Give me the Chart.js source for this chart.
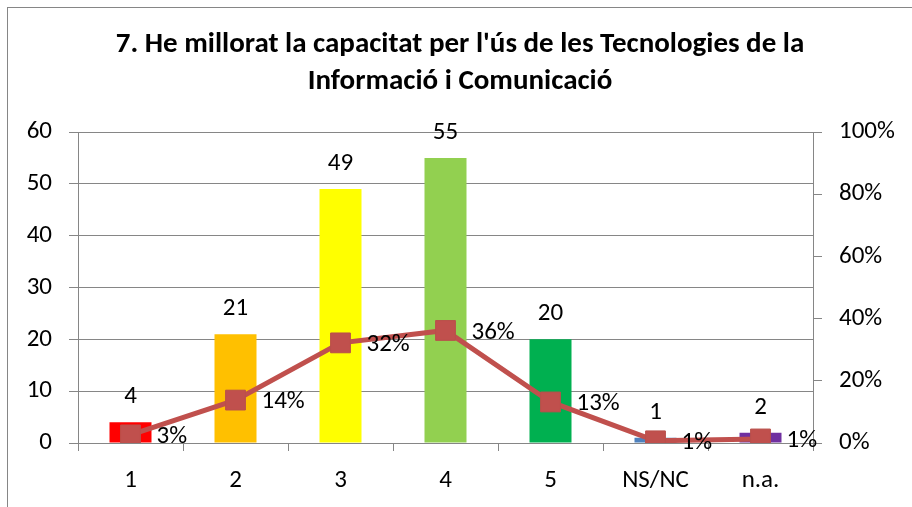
<!DOCTYPE html>
<html><head><meta charset="utf-8">
<script src="https://cdn.jsdelivr.net/npm/chart.js@4"></script>
<style>html,body{margin:0;padding:0;background:#fff}#wrap{width:912px;height:507px;position:relative}</style>
</head><body><div id="wrap"><canvas id="c" width="912" height="507"></canvas></div>
<script>
const categories = ['1','2','3','4','5','NS/NC','n.a.'];
const counts = [4,21,49,55,20,1,2];
const percents = [2.6,13.8,32.2,36.2,13.2,0.7,1.3];
const percentLabels = ['3%','14%','32%','36%','13%','1%','1%'];
const barColors = ['#FF0000','#FFC000','#FFFF00','#92D050','#00B050','#4F81BD','#7030A0'];
const titleLines = ["7. He millorat la capacitat per l'ús de les Tecnologies de la","Informació i Comunicació"];
const FONT = "Carlito, Lato, 'Open Sans', sans-serif";
const GRID = '#868686';
const FS = 25;

const labelPlugin = {
  id:'labels',
  beforeDraw(chart){
    const ctx=chart.ctx; ctx.save();
    ctx.strokeStyle=GRID; ctx.lineWidth=1;
    ctx.strokeRect(7.5,7.5,940,540);
    ctx.restore();
  },
  afterDatasetsDraw(chart){
    const ctx=chart.ctx; ctx.save();
    ctx.font=FS+'px '+FONT; ctx.fillStyle='#000';
    const bm=chart.getDatasetMeta(0);
    ctx.textAlign='center'; ctx.textBaseline='alphabetic';
    bm.data.forEach((b,i)=>{ ctx.fillText(String(counts[i]), b.x, b.y-19); });
    const lm=chart.getDatasetMeta(1);
    ctx.textAlign='left'; ctx.textBaseline='middle';
    lm.data.forEach((p,i)=>{ ctx.fillText(percentLabels[i], p.x+26, p.y+2); });
    ctx.restore();
  }
};

new Chart(document.getElementById('c'),{
  data:{labels:categories,datasets:[
    {type:'bar',data:counts,backgroundColor:barColors,yAxisID:'y',order:2,categoryPercentage:1,barPercentage:0.4},
    {type:'line',data:percents,yAxisID:'y1',order:1,borderColor:'#C0504D',borderWidth:5,
     pointStyle:'rect',pointRadius:14,pointBackgroundColor:'#C0504D',pointBorderColor:'#B9504B',pointBorderWidth:1,tension:0}
  ]},
  options:{
    responsive:false,animation:false,
    layout:{padding:{left:8,right:0,top:0,bottom:0}},
    plugins:{legend:{display:false},tooltip:{enabled:false},
      title:{display:true,text:titleLines,color:'#000',font:{family:FONT,size:29,weight:'bold',lineHeight:1.28},padding:{top:26,bottom:31.8}}},
    scales:{
      x:{offset:true,grid:{display:true,offset:true,drawOnChartArea:false,drawTicks:true,tickLength:8,color:GRID},
         border:{color:GRID,width:1},
         ticks:{color:'#000',font:{family:FONT,size:FS},padding:15},
         afterFit(s){s.height=64;}},
      y:{position:'left',min:0,max:60,grid:{color:GRID,tickLength:9},border:{color:GRID},
         ticks:{stepSize:10,color:'#000',font:{family:FONT,size:FS},padding:17},
         afterFit(s){s.width=70;}},
      y1:{position:'right',min:0,max:100,grid:{drawOnChartArea:false,color:GRID,tickLength:9},border:{color:GRID},
         ticks:{stepSize:20,color:'#000',font:{family:FONT,size:FS},padding:17,callback:v=>v+'%'},
         afterFit(s){s.width=99;}}
    }
  },
  plugins:[labelPlugin]
});
</script></body></html>
